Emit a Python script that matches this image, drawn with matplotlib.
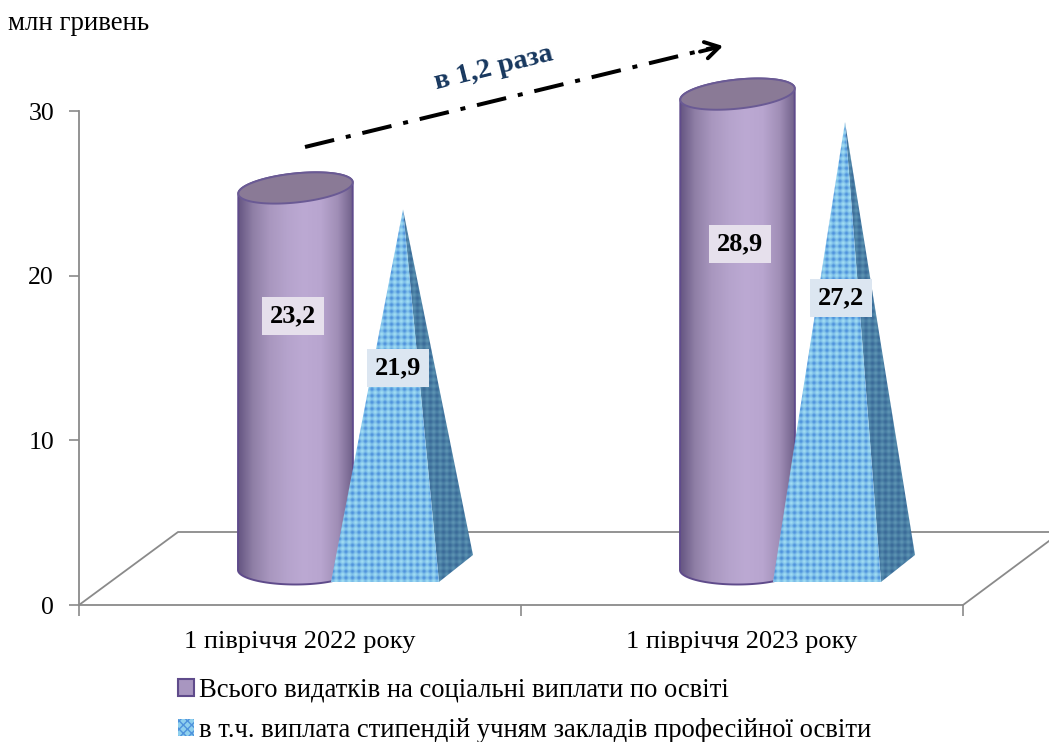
import numpy as np
import matplotlib
matplotlib.use("Agg")
import matplotlib.pyplot as plt
from matplotlib.colors import LinearSegmentedColormap
from matplotlib.patches import Polygon, Patch
from matplotlib.transforms import IdentityTransform

periods = ['1 півріччя 2022 року', '1 півріччя 2023 року']
total_values = [23.2, 28.9]
grant_values = [21.9, 27.2]
total_labels = ['23,2', '28,9']
grant_labels = ['21,9', '27,2']
legend_names = ['Всього видатків на соціальні виплати по освіті',
                'в т.ч. виплата стипендій учням закладів професійної освіти']
y_ticks = [0, 10, 20, 30]

W, H = 1049, 742
plt.rcParams['font.family'] = ['Liberation Serif', 'DejaVu Serif']
plt.rcParams['lines.scale_dashes'] = False
plt.rcParams['hatch.linewidth'] = 1.0
PT = 72 / 100  # 1 px in points

fig = plt.figure(figsize=(W / 100, H / 100), dpi=100)
ax = fig.add_axes([79 / W, (H - 605) / H, 884 / W, 494 / H])
ax.set_xlim(0, 2)
ax.set_ylim(0, 30)
ax.set_autoscale_on(False)

for s in ['top', 'right']:
    ax.spines[s].set_visible(False)
for s in ['left', 'bottom']:
    ax.spines[s].set_color('#8a8a8a')
    ax.spines[s].set_linewidth(1.3)
ax.set_yticks(y_ticks)
ax.set_xticks([0, 1, 2])
ax.set_xticklabels(['', '', ''])
ax.set_xticks([0.5, 1.5], minor=True)
ax.set_xticklabels(periods, minor=True, fontsize=19)
ax.tick_params(axis='x', which='minor', length=0, pad=19)
ax.tick_params(axis='x', which='major', length=8, color='#8a8a8a', width=1.2)
ax.tick_params(axis='y', length=7, color='#8a8a8a', width=1.2, labelsize=18.5, pad=11)


def screen(x, y):
    # pixel position counted from the top left of the picture -> display coords
    return (x, H - y)


def bar_point(cat, val, dx, dy=0):
    # screen offsets from where a value sits on the axes, dy is upwards
    p = ax.transData.transform((cat, val))
    return (p[0] + dx, p[1] + dy)


disp = IdentityTransform()

# floor of the 3d chart
floor_x = [79, 178, 1049]
floor_y = [605, 532, 532]
pts = [screen(a, b) for a, b in zip(floor_x, floor_y)]
ax.plot(*zip(*pts), transform=disp, color='#8a8a8a', lw=1.3, clip_on=False, zorder=1)
pts = [screen(963, 605), screen(1049, 541)]
ax.plot(*zip(*pts), transform=disp, color='#8a8a8a', lw=1.3, clip_on=False, zorder=1)

purple = LinearSegmentedColormap.from_list('cyl', ['#5f4f7c', '#8f7fa6', '#a997bf', '#b5a3cc', '#bca9d3',
                                                   '#b8a5cf', '#a08eb6', '#6a5a84'])
t = np.linspace(0, 2 * np.pi, 200)
DEPTH = 35  # px from front axis to the middle of the floor
tilt = np.radians(6)

for i, val in enumerate(total_values):
    cat = i + 0.5
    cx, base = bar_point(cat, 0, -4.5, DEPTH)
    _, top = bar_point(cat, val, -4.5, DEPTH)
    a, b = 57.5, 14.5
    # body outline: lower half of base ellipse and upper part up to the lid
    low = np.linspace(np.pi, 2 * np.pi, 80)
    xb = cx + a * np.cos(low)
    yb = base + b * np.sin(low)
    up = np.linspace(0, np.pi, 80)
    xt = cx + a * np.cos(up) * np.cos(tilt) - b * np.sin(up) * np.sin(tilt)
    yt = top + a * np.cos(up) * np.sin(tilt) + b * np.sin(up) * np.cos(tilt)
    outline = np.column_stack([np.r_[xb, xt], np.r_[yb, yt]])
    ax.add_patch(Polygon(outline, closed=True, transform=disp, fc='none', ec='#5f4b8b', lw=1.4,
                         zorder=3, clip_on=False))
    im = ax.imshow(np.linspace(0, 1, 256)[None, :], cmap=purple, aspect='auto', transform=disp,
                   extent=(cx - a - 2, cx + a + 2, base - 30, top + 30), zorder=2.9)
    im.set_clip_box(fig.bbox)
    im.set_clip_path(Polygon(outline, closed=True, transform=disp))
    xl = cx + a * np.cos(t) * np.cos(tilt) - b * np.sin(t) * np.sin(tilt)
    yl = top + a * np.cos(t) * np.sin(tilt) + b * np.sin(t) * np.cos(tilt)
    ax.add_patch(Polygon(np.column_stack([xl, yl]), closed=True, transform=disp, fc='#8a7a96',
                         ec='#6a5a94', lw=1.4, zorder=3.1, clip_on=False))

# little checker texture for the pyramids
tx, ty = np.meshgrid(np.arange(240), np.arange(520))
texture = np.sin((tx + ty) * 2 * np.pi / 13) * np.sin((tx - ty) * 2 * np.pi / 13)
blue = LinearSegmentedColormap.from_list('tex', ['#4f93dc', '#7fc0ea', '#9fdcf2'])
dark = LinearSegmentedColormap.from_list('tex2', ['#3a6a98', '#4a7fa5', '#5c93b2'])

for i, val in enumerate(grant_values):
    cat = i + 0.5
    fl = bar_point(cat, 0, 31)
    fl = (fl[0], H - 582)
    fr = (fl[0] + 108, fl[1])
    back = (fr[0] + 34, fr[1] + 27)
    apex = bar_point(cat, val, 103, DEPTH)
    for poly, cm, zo in [([fr, back, apex], dark, 3.4), ([fl, fr, apex], blue, 3.5)]:
        im = ax.imshow(texture, cmap=cm, aspect='auto', transform=disp, interpolation='bilinear',
                       extent=(fl[0] - 5, fl[0] + 235, fl[1] - 5, fl[1] + 515), zorder=zo)
        im.set_clip_box(fig.bbox)
        im.set_clip_path(Polygon(poly, closed=True, transform=disp))

# value labels
label_pos = [[(293, 316), (740, 244)], [(398, 368), (841, 298)]]
label_bg = ['#e6e0ec', '#dce6f1']
for j, labs in enumerate([total_labels, grant_labels]):
    for k, lab in enumerate(labs):
        x, y = screen(*label_pos[j][k])
        ax.text(x, y, lab, transform=disp, ha='center', va='center', fontsize=19, fontweight='bold',
                color='black', zorder=5, bbox=dict(fc=label_bg[j], ec='none', pad=5.5))

# growth arrow
x0, y0 = screen(305, 147)
x1, y1 = screen(716, 47)
ax.plot([x0, x1], [y0, y1], transform=disp, color='black', lw=4 * PT, clip_on=False, zorder=4,
        solid_capstyle='butt', linestyle=(0, (30 * PT, 12 * PT, 5 * PT, 12 * PT)))
ax.annotate('', xy=screen(723, 46), xytext=screen(700, 51.6), xycoords=disp, textcoords=disp,
            arrowprops=dict(arrowstyle='->,head_length=1.0,head_width=0.6', color='black', lw=2.8,
                            shrinkA=0, shrinkB=0), annotation_clip=False, zorder=4)
x, y = screen(494, 68)
ax.text(x, y, 'в 1,2 раза', transform=disp, ha='center', va='center', rotation=14, rotation_mode='anchor',
        fontsize=20.5, fontweight='bold', color='#17375e', zorder=4)

x, y = screen(8, 24)
ax.text(x, y, 'млн гривень', transform=disp, ha='left', va='center', fontsize=19.4, color='black')

handles = [Patch(fc='#a896c0', ec='#5f4b8b', lw=1.5),
           Patch(fc='#8fd0ee', ec='#4f93dc', lw=0, hatch='xxxx')]
leg = fig.legend(handles, legend_names, loc='upper left', bbox_to_anchor=(178 / W, (H - 678) / H),
                 frameon=False, fontsize=19.2, handlelength=0.6, handleheight=0.6, handletextpad=0.18,
                 labelspacing=0.55, borderpad=0.0, borderaxespad=0)

fig.savefig('out.png', dpi=100)
